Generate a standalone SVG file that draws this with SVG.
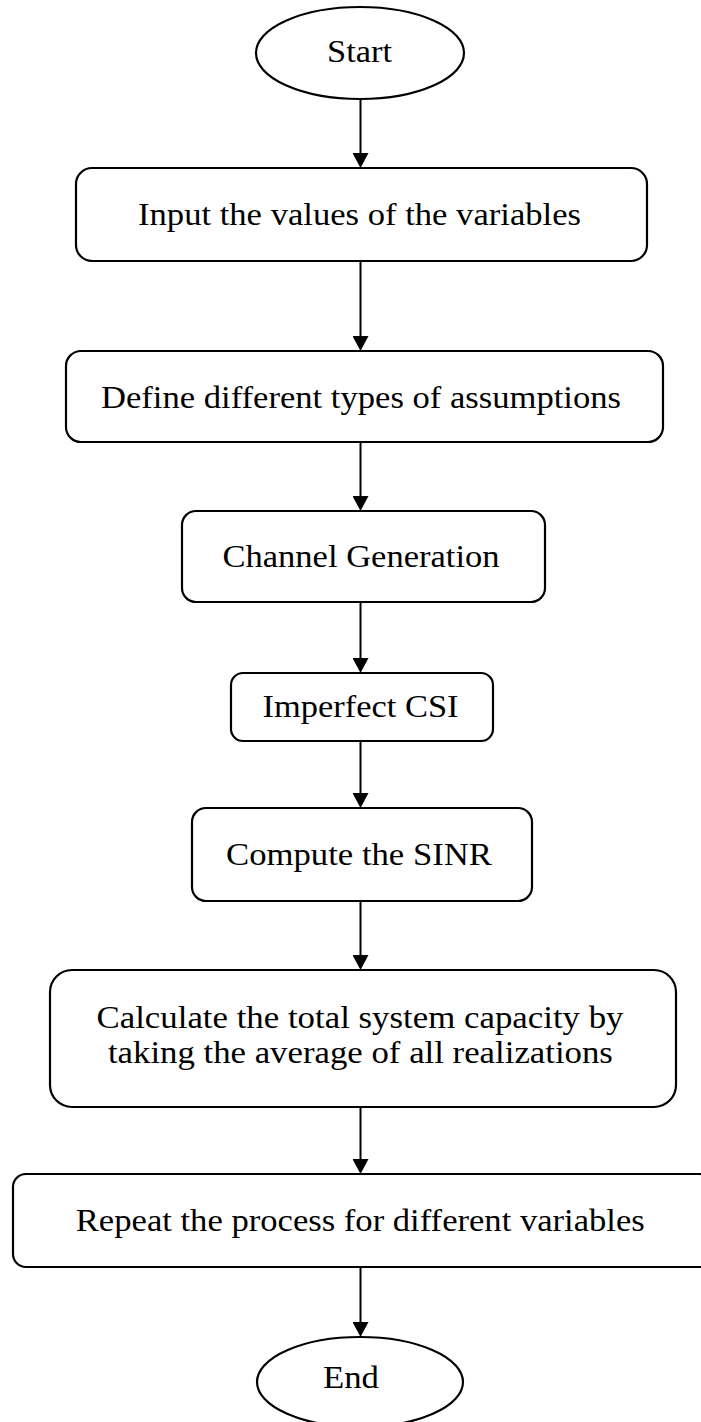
<svg xmlns="http://www.w3.org/2000/svg" width="701" height="1422" viewBox="0 0 701 1422">
  <style>
    .shape { fill: #ffffff; stroke: #000000; stroke-width: 2.2; }
    .label { font-family: "Liberation Serif", "Times New Roman", serif; font-size: 31px; fill: #000000; text-anchor: middle; }
    .link { stroke: #000000; stroke-width: 2; fill: none; marker-end: url(#arrowhead); }
  </style>
  <defs>
    <marker id="arrowhead" viewBox="0 0 15 16" refX="1" refY="8" markerUnits="userSpaceOnUse" markerWidth="15" markerHeight="16" orient="auto">
      <path d="M0,0 L15,8 L0,16 z" fill="#000000"/>
    </marker>
  </defs>
  <rect width="701" height="1422" fill="#ffffff"/>

  <!-- connectors: each line stops 14px short, the arrowhead covers the rest -->
  <g id="connectors">
    <line class="link" x1="360.5" y1="99" x2="360.5" y2="154"/>
    <line class="link" x1="360.5" y1="261" x2="360.5" y2="337"/>
    <line class="link" x1="360.5" y1="442" x2="360.5" y2="497"/>
    <line class="link" x1="360.5" y1="602" x2="360.5" y2="659"/>
    <line class="link" x1="360.5" y1="741" x2="360.5" y2="794"/>
    <line class="link" x1="360.5" y1="901" x2="360.5" y2="956"/>
    <line class="link" x1="360.5" y1="1107" x2="360.5" y2="1160"/>
    <line class="link" x1="360.5" y1="1267" x2="360.5" y2="1323"/>
  </g>

  <g id="start">
    <ellipse class="shape" cx="360" cy="53" rx="104" ry="46"/>
    <text class="label" x="359.5" y="62" textLength="65" lengthAdjust="spacingAndGlyphs">Start</text>
  </g>

  <g id="input-values">
    <rect class="shape" x="76" y="168" width="571" height="93" rx="16" ry="16"/>
    <text class="label" x="359.5" y="225" textLength="443" lengthAdjust="spacingAndGlyphs">Input the values of the variables</text>
  </g>

  <g id="define-assumptions">
    <rect class="shape" x="66" y="351" width="597" height="91" rx="15" ry="15"/>
    <text class="label" x="361" y="408" textLength="520" lengthAdjust="spacingAndGlyphs">Define different types of assumptions</text>
  </g>

  <g id="channel-generation">
    <rect class="shape" x="182" y="511" width="363" height="91" rx="14" ry="14"/>
    <text class="label" x="361" y="567" textLength="277" lengthAdjust="spacingAndGlyphs">Channel Generation</text>
  </g>

  <g id="imperfect-csi">
    <rect class="shape" x="231" y="673" width="262" height="68" rx="12" ry="12"/>
    <text class="label" x="360.5" y="717" textLength="196" lengthAdjust="spacingAndGlyphs">Imperfect CSI</text>
  </g>

  <g id="compute-sinr">
    <rect class="shape" x="192" y="808" width="340" height="93" rx="14" ry="14"/>
    <text class="label" x="359" y="865" textLength="266" lengthAdjust="spacingAndGlyphs">Compute the SINR</text>
  </g>

  <g id="total-capacity">
    <rect class="shape" x="50" y="970" width="626" height="137" rx="22" ry="22"/>
    <text class="label" x="360" y="1028" textLength="527" lengthAdjust="spacingAndGlyphs">Calculate the total system capacity by</text>
    <text class="label" x="360.4" y="1063" textLength="505" lengthAdjust="spacingAndGlyphs">taking the average of all realizations</text>
  </g>

  <g id="repeat-process">
    <rect class="shape" x="13" y="1174" width="700" height="93" rx="13" ry="13"/>
    <text class="label" x="360.3" y="1231" textLength="569" lengthAdjust="spacingAndGlyphs">Repeat the process for different variables</text>
  </g>

  <g id="end">
    <ellipse class="shape" cx="360" cy="1382" rx="103" ry="45"/>
    <text class="label" x="351" y="1388" textLength="56" lengthAdjust="spacingAndGlyphs">End</text>
  </g>
</svg>
